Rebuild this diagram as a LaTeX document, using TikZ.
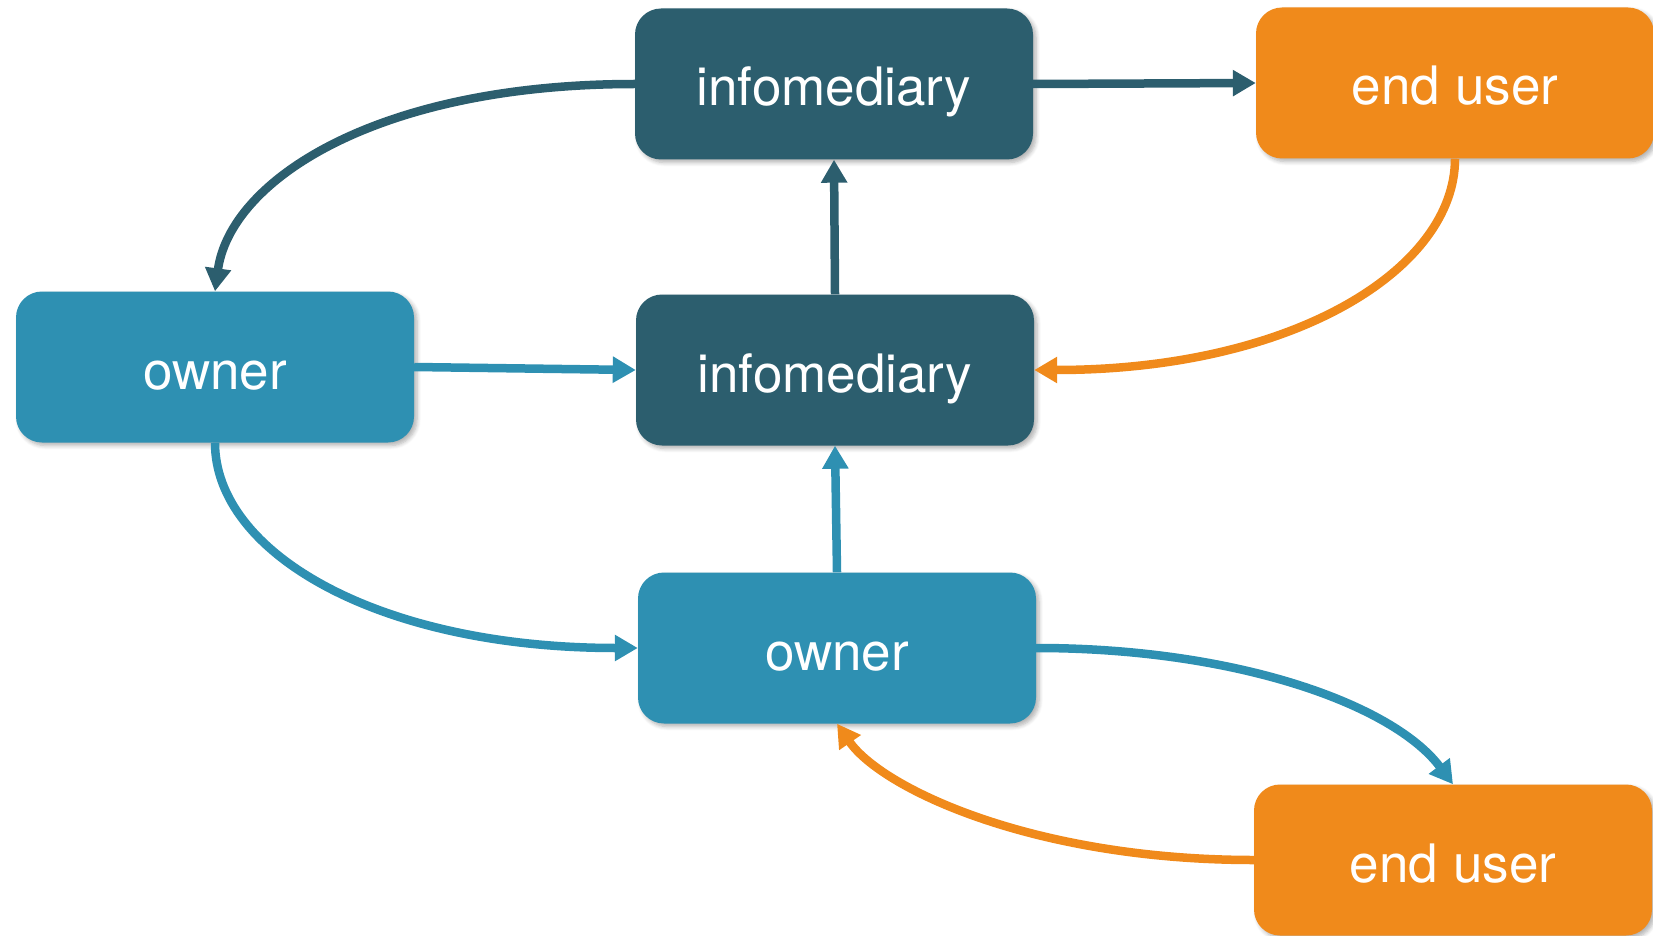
\documentclass[tikz,border=0pt]{standalone}
\usepackage{fontspec}
\setmainfont{TeX Gyre Heros}
\usetikzlibrary{arrows.meta,shadows.blur}
\definecolor{cdark}{HTML}{2C5E6E}
\definecolor{cblue}{HTML}{2E90B2}
\definecolor{corange}{HTML}{F08A1B}
\tikzset{
  box/.style={rounded corners=26pt, minimum width=398pt, minimum height=151pt,
    text=white, font=\fontsize{53}{60}\selectfont, inner sep=0pt,
    text height=44pt, text depth=0pt,
    blur shadow={shadow xshift=3pt, shadow yshift=-3pt, shadow blur steps=6, shadow blur radius=4pt, shadow opacity=30}},
  infobox/.style={box, fill=cdark},
  ownerbox/.style={box, fill=cblue},
  userbox/.style={box, fill=corange},
  conn/.style={line width=8.5pt, -{Triangle[length=23pt,width=25pt]}},
}
\begin{document}
\begin{tikzpicture}[x=1pt,y=-1pt]
\useasboundingbox (0,0) rectangle (1653,936);
\node[infobox] (it) at (834,84) {infomediary};
\node[userbox] (et) at (1455,83) {end user};
\node[ownerbox] (ol) at (215,367) {owner};
\node[infobox] (im) at (835,370) {infomediary};
\node[ownerbox] (ob) at (837,648) {owner};
\node[userbox] (eb) at (1453,860) {end user};
% connectors
\draw[conn, cdark] (it.west) .. controls +(-260,0) and +(15,-110) .. (ol.north);
\draw[conn, cdark] (it.east) -- (et.west);
\draw[conn, corange] (et.south) .. controls +(0,110) and +(260,0) .. (im.east);
\draw[conn, cdark] (im.north) -- (it.south);
\draw[conn, cblue] (ol.east) -- (im.west);
\draw[conn, cblue] (ol.south) .. controls +(0,110) and +(-260,0) .. (ob.west);
\draw[conn, cblue] (ob.north) -- (im.south);
\draw[conn, cblue] (ob.east) .. controls +(200,0) and +(-60,-80) .. (eb.north);
\draw[conn, corange] (eb.west) .. controls +(-220,0) and +(45,65) .. (ob.south);
\end{tikzpicture}
\end{document}
